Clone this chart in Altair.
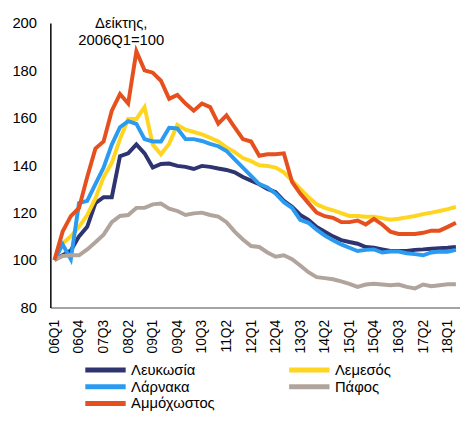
import altair as alt
import pandas as pd

quarters = ["06Q1","06Q2","06Q3","06Q4","07Q1","07Q2","07Q3","07Q4",
            "08Q1","08Q2","08Q3","08Q4","09Q1","09Q2","09Q3","09Q4",
            "10Q1","10Q2","10Q3","10Q4","11Q1","11Q2","11Q3","11Q4",
            "12Q1","12Q2","12Q3","12Q4","13Q1","13Q2","13Q3","13Q4",
            "14Q1","14Q2","14Q3","14Q4","15Q1","15Q2","15Q3","15Q4",
            "16Q1","16Q2","16Q3","16Q4","17Q1","17Q2","17Q3","17Q4",
            "18Q1","18Q2"]
tick_labels = ["06Q1","06Q4","07Q3","08Q2","09Q1","09Q4","10Q3","11Q2","12Q1",
               "12Q4","13Q3","14Q2","15Q1","15Q4","16Q3","17Q2","18Q1"]

series_names = ["Λευκωσία", "Λεμεσός", "Λάρνακα", "Πάφος", "Αμμόχωστος"]
series_colors = ["#2E3470", "#FFD51F", "#2A9BF0", "#B0A49C", "#E5501E"]

lefkosia = [100, 102, 104, 110, 114, 124, 126.5, 126.5, 143.8, 145,
            148.8, 145, 139, 140.5, 140.7, 139.7, 139.3, 138.4, 139.7, 139.3,
            138.6, 138, 137, 135, 133.5, 132, 130, 128.6, 125, 122.5,
            119, 117, 114, 112, 110, 108.4, 107.6, 106.9, 105.5, 105.2,
            104.5, 103.8, 103.8, 103.8, 104.3, 104.5, 104.8, 105, 105.2, 105.5]
lemesos = [100, 107, 110, 114, 119, 126, 135, 141, 151, 159.5,
           159.5, 164.5, 148.7, 144.6, 149, 157, 155, 154, 153, 151.6,
           150, 147.5, 145.5, 143, 141.7, 140, 139.7, 139, 137, 133.5,
           130, 126.5, 123.5, 122, 121, 119.8, 118.6, 118.6, 118.3, 118.3,
           117.7, 117, 117.4, 118, 118.6, 119.4, 120, 120.7, 121.5, 122.4]
larnaka = [100, 106.6, 100.4, 124, 125, 132, 139, 148.7, 156, 158.6,
           157.4, 151, 150, 150, 155.8, 155.5, 151, 151, 150.2, 149,
           148, 146, 142.5, 139, 135.5, 132, 130.6, 128, 124.4, 122,
           117, 115.7, 112.8, 110.3, 108.4, 106.6, 105.2, 103.8, 104.3, 104.5,
           103.2, 103.6, 103.6, 102.9, 102.5, 102, 103.2, 103.6, 103.5, 104.3]
pafos = [100, 101.7, 102, 102, 104.5, 107.5, 110.7, 116, 118.6, 119,
         122, 122, 123.5, 123.8, 121.7, 120.7, 119, 119.7, 120, 119,
         118.3, 116, 112, 108.7, 105.9, 105.5, 103.2, 101.4, 102, 100.4,
         97.7, 94.9, 92.8, 92.4, 91.9, 91, 90, 88.7, 89.7, 90,
         89.7, 89.4, 89.7, 88.7, 88, 89.7, 89, 89.4, 89.8, 89.8]
ammochostos = [100, 112, 118.5, 122, 135, 147, 150, 163, 170, 166,
               188, 180, 179, 175.6, 168, 169.6, 166, 163, 166, 164.5,
               157.5, 161, 156, 151, 150, 144, 144.6, 144.6, 145, 133,
               128, 124, 120, 118.5, 117.8, 116, 116, 116.7, 115, 117.4,
               115, 112, 111, 111, 111, 111.5, 112.4, 112.4, 114, 115.7]

all_series = [lefkosia, lemesos, larnaka, pafos, ammochostos]
rows = []
for name, vals in zip(series_names, all_series):
    for q, v in zip(quarters, vals):
        rows.append({"quarter": q, "value": v, "region": name})
df = pd.DataFrame(rows)

FONT = "Liberation Sans"

lines = alt.Chart(df).mark_line(strokeWidth=4, strokeJoin="miter").encode(
    x=alt.X("quarter:O", sort=quarters,
            scale=alt.Scale(type="point", padding=0.5),
            axis=alt.Axis(title=None, values=tick_labels, labelAngle=-90,
                          labelFontSize=14, labelColor="#000", labelFont=FONT,
                          labelPadding=12, ticks=False, domainColor="#868686",
                          domainWidth=1.5, grid=False)),
    y=alt.Y("value:Q", scale=alt.Scale(domain=[80, 200], nice=False, zero=False),
            axis=alt.Axis(title=None, values=[80, 100, 120, 140, 160, 180, 200],
                          labelFontSize=15, labelColor="#000", labelFont=FONT,
                          labelPadding=14, ticks=False, domainColor="#000",
                          domainWidth=1.5, grid=False)),
    color=alt.Color("region:N",
                    scale=alt.Scale(domain=series_names, range=series_colors),
                    sort=series_names,
                    legend=alt.Legend(title=None, orient="none", legendX=33, legendY=344,
                                      direction="horizontal", gridAlign="all",
                                      columns=2, symbolType="stroke", symbolSize=1681,
                                      symbolStrokeWidth=5, labelFontSize=15, labelFont=FONT,
                                      labelColor="#000", labelOffset=3, columnPadding=73,
                                      rowPadding=0, clipHeight=17, padding=0)),
    order=alt.Order("region_order:Q")
).transform_calculate(
    region_order="indexof(" + str(series_names) + ", datum.region)"
)

note = alt.Chart(pd.DataFrame({"a": [0]})).mark_text(
    fontSize=15, font=FONT, color="#000", align="center", baseline="middle",
    lineHeight=17
).encode(
    x=alt.value(72), y=alt.value(0.5),
    text=alt.value(["Δείκτης,", "2006Q1=100"])
)

chart = alt.layer(lines, note).properties(
    width=416, height=289,
    autosize=alt.AutoSizeParams(type="none"),
    padding={"left": 43, "top": 12, "right": 0, "bottom": 104}
).configure_view(stroke=None)

chart.save("out.html", embed_options={"renderer": "svg", "actions": False})
